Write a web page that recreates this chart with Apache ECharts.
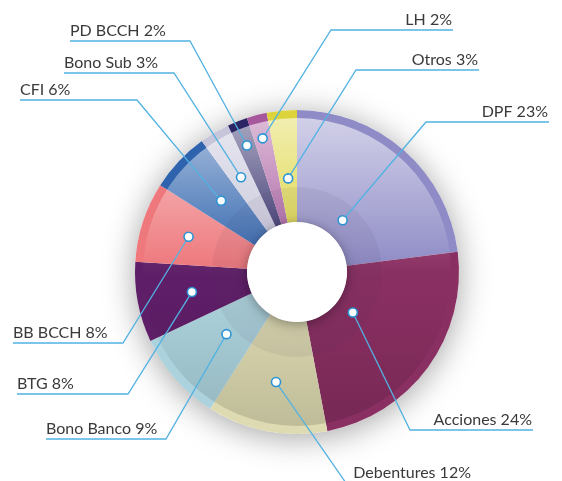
<!DOCTYPE html>
<html>
<head>
    <meta charset="utf-8">
    <title>Cartera</title>
    <script src="https://cdn.jsdelivr.net/npm/echarts@6/dist/echarts.min.js"></script>
</head>
<style>
    html, body {
        margin: 0;
        background: #fff;
    }
    #main {
        width: 562px;
        height: 481px;
    }
</style>
<body>
    <div id="main"></div>
    <script type="text/javascript">
        // datos, en orden horario desde las 12
        var names = ['DPF', 'Acciones', 'Debentures', 'Bono Banco', 'BTG', 'BB BCCH', 'CFI', 'Bono Sub', 'PD BCCH', 'LH', 'Otros'];
        var values = [23, 24, 12, 9, 8, 8, 6, 3, 2, 2, 3];
        var colors = ['#8e8bc6', '#8a2f62', '#dedbb2', '#acd3dd', '#5f1e68', '#ee787c', '#2f63ad', '#c6c5da', '#2b2566', '#a7589d', '#dcd43a'];

        // posicion de las etiquetas (radio del punto, codo, extremo de la linea)
        var CENTER = [297, 272];
        var R_IN = 50, R_OUT = 162;
        var labelPos = [
            { r: 69,  x: 426, y: 122, end: 549, align: 'right' },
            { r: 69,  x: 410, y: 430, end: 533, align: 'right' },
            { r: 112, x: 346, y: 483, end: 472, align: 'right' },
            { r: 94,  x: 166, y: 439, end: 46,  align: 'left' },
            { r: 107, x: 128, y: 394, end: 17,  align: 'left' },
            { r: 114, x: 123, y: 343, end: 13,  align: 'left' },
            { r: 104, x: 137, y: 100, end: 20,  align: 'left' },
            { r: 110, x: 174, y: 73,  end: 64,  align: 'left' },
            { r: 136, x: 190, y: 41,  end: 70,  align: 'left' },
            { r: 138, x: 331, y: 30,  end: 453, align: 'right' },
            { r: 94,  x: 356, y: 70,  end: 479, align: 'right' }
        ];

        var total = 0;
        for (var i = 0; i < values.length; i++) total += values[i];
        var acc = 0, labelData = [];
        for (var i = 0; i < values.length; i++) {
            var mid = (acc + values[i] / 2) / total * 100;
            acc += values[i];
            labelData.push([mid, labelPos[i].r]);
        }

        var pieData = [];
        for (var i = 0; i < names.length; i++) {
            pieData.push({ name: names[i], value: values[i], itemStyle: { color: colors[i] } });
        }

        var basePie = {
            type: 'pie',
            center: CENTER,
            startAngle: 90,
            silent: true,
            animation: false,
            label: { show: false },
            labelLine: { show: false },
            emphasis: { disabled: true }
        };

        var option = {
            animation: false,
            polar: { center: CENTER, radius: R_OUT },
            angleAxis: { type: 'value', min: 0, max: 100, startAngle: 90, clockwise: true, show: false },
            radiusAxis: { type: 'value', min: 0, max: R_OUT, show: false },
            series: [
                // sombra exterior
                Object.assign({}, basePie, {
                    z: 1,
                    radius: [0, R_OUT],
                    data: [{ value: 1, itemStyle: { color: '#fff', shadowBlur: 32, shadowOffsetY: 4, shadowColor: 'rgba(0,0,0,0.36)' } }]
                }),
                Object.assign({}, basePie, {
                    z: 2,
                    radius: [R_IN, R_OUT],
                    itemStyle: { borderWidth: 0 },
                    data: pieData
                }),
                // brillo
                Object.assign({}, basePie, {
                    z: 3,
                    radius: [R_IN, R_OUT - 8],
                    data: [{ value: 1, itemStyle: { color: new echarts.graphic.LinearGradient(0, 0, 0, 1, [
                        { offset: 0, color: 'rgba(255,255,255,0.6)' },
                        { offset: 0.45, color: 'rgba(255,255,255,0.05)' },
                        { offset: 0.55, color: 'rgba(0,0,0,0)' },
                        { offset: 1, color: 'rgba(0,0,0,0.14)' }
                    ]) } }]
                }),
                // anillo interior
                Object.assign({}, basePie, {
                    z: 3,
                    radius: [R_IN, 85],
                    data: [{ value: 1, itemStyle: { color: 'rgba(70,60,90,0.07)' } }]
                }),
                // hueco
                Object.assign({}, basePie, {
                    z: 4,
                    radius: [0, R_IN],
                    data: [{ value: 1, itemStyle: { color: '#fff', shadowBlur: 12, shadowOffsetY: 2, shadowColor: 'rgba(0,0,0,0.35)' } }]
                }),
                {
                    type: 'custom',
                    coordinateSystem: 'polar',
                    z: 5,
                    silent: true,
                    data: labelData,
                    renderItem: function (params, api) {
                        var i = params.dataIndex;
                        var L = labelPos[i];
                        var p = api.coord([api.value(1), api.value(0)]);
                        var tx = L.align === 'right' ? L.end - 1 : L.end;
                        return {
                            type: 'group',
                            children: [
                                { type: 'polyline', shape: { points: [p, [L.x, L.y], [L.end, L.y]] },
                                  style: { stroke: '#52b2e2', lineWidth: 1.3, fill: null } },
                                { type: 'circle', shape: { cx: p[0], cy: p[1], r: 4.5 },
                                  style: { fill: '#fff', stroke: '#2b93d4', lineWidth: 1.6 } },
                                { type: 'text', style: { text: names[i] + ' ' + values[i] + '%', x: tx, y: L.y - 2,
                                  align: L.align, verticalAlign: 'bottom', font: '16px Lato', fill: '#3a3a3a' } }
                            ]
                        };
                    }
                }
            ]
        };
        var myChart = echarts.init(document.getElementById('main'));
        myChart.setOption(option);
    </script>
</body>
</html>
